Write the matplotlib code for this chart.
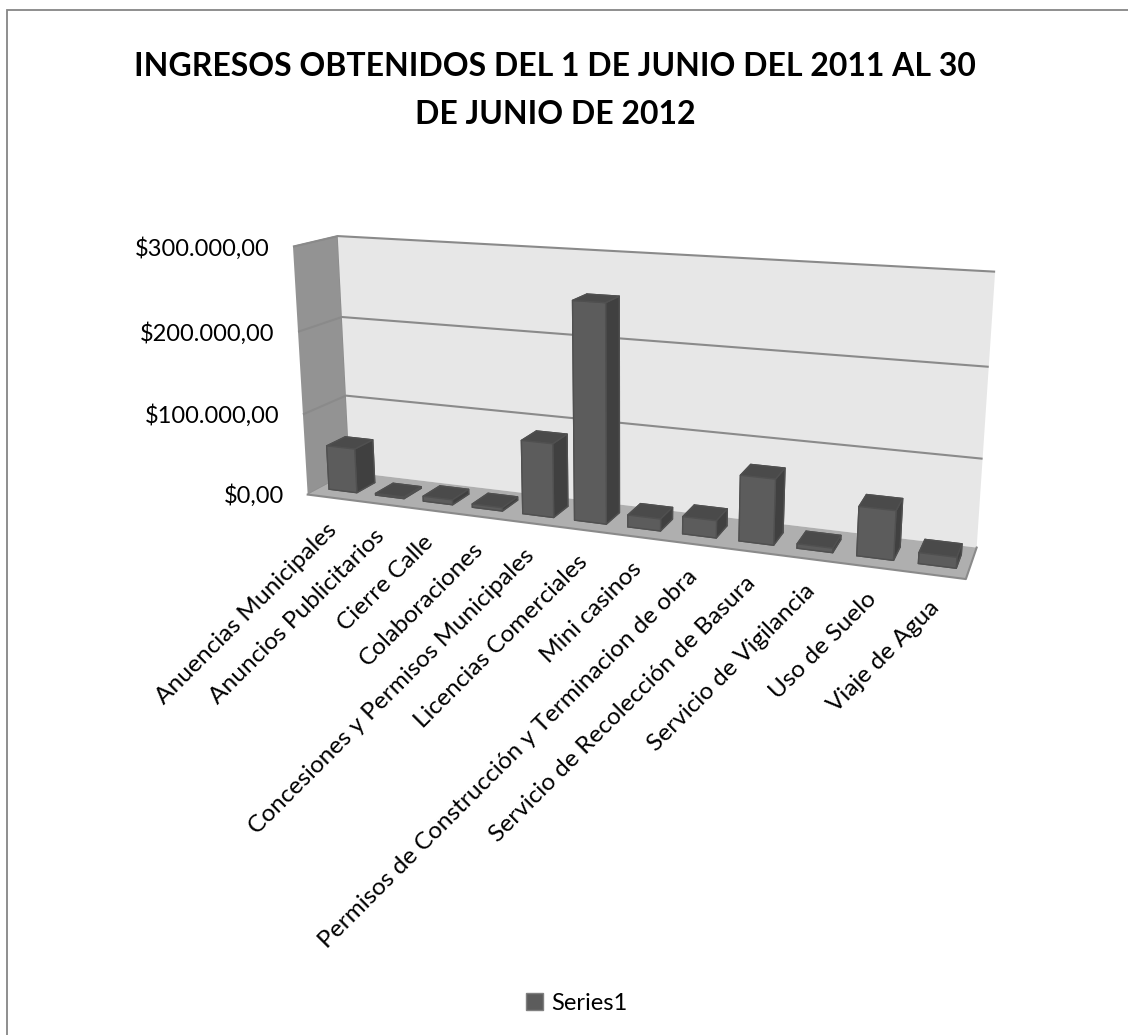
import numpy as np
import matplotlib
matplotlib.use('Agg')
import matplotlib.pyplot as plt
from matplotlib.patches import Patch, Rectangle
from mpl_toolkits.mplot3d import proj3d

categories = ['Anuencias Municipales', 'Anuncios Publicitarios', 'Cierre Calle', 'Colaboraciones',
              'Concesiones y Permisos Municipales', 'Licencias Comerciales', 'Mini casinos',
              'Permisos de Construcción y Terminacion de obra', 'Servicio de Recolección de Basura',
              'Servicio de Vigilancia', 'Uso de Suelo', 'Viaje de Agua']
values = [55000, 2000, 6000, 4000, 88000, 254000, 14000, 20000, 75000, 5000, 55000, 12000]
zticks = [0, 100000, 200000, 300000]
zlabels = ['$0,00', '$100.000,00', '$200.000,00', '$300.000,00']

plt.rcParams['font.family'] = ['Lato', 'DejaVu Sans']
plt.rcParams['grid.color'] = '#8a8a8a'
plt.rcParams['grid.linewidth'] = 1.5

W, H = 1128, 1035
fig = plt.figure(figsize=(W/100, H/100), dpi=100)
ax = fig.add_axes([0, 0, 1, 1], projection='3d')

# camera fitted to the corners of the walls
ax.set_xlim(0, 12)
ax.set_ylim(0, 1)
ax.set_zlim(0, 300000)
ax.view_init(elev=14.196, azim=-69.652)
ax.set_proj_type('persp', focal_length=0.34823)
ax.set_box_aspect((1, 0.12365, 0.38661))
s, cx, cy = 3944.1, 623.56, 392.15
vl = ax.viewLim
ax.set_position([(cx + s*vl.x0)/W, 1 - (cy - s*vl.y0)/H, s*vl.width/W, s*vl.height/H])
ax.patch.set_visible(False)

# walls and floor
ax.xaxis.set_pane_color('#939393')
ax.yaxis.set_pane_color('#e7e7e7')
ax.zaxis.set_pane_color('#afafaf')
ax.xaxis.pane.set_edgecolor('#8c8c8c')
ax.yaxis.pane.set_edgecolor('none')
ax.zaxis.pane.set_edgecolor('none')
for a in (ax.xaxis, ax.yaxis, ax.zaxis):
    a.line.set_color((0, 0, 0, 0))
ax.set_xticks([])
ax.set_yticks([])
ax.set_zticks(zticks[1:])
ax.set_zticklabels([])
ax.tick_params(axis='z', length=0, color=(0, 0, 0, 0))
ax.grid(True)
ax.plot([0, 12, 12], [0, 0, 1], [0, 0, 0], color='#8a8a8a', lw=1.5)

# bars
xpos = np.arange(len(values)) + 0.2
colors = ['#4a4a4a', '#4a4a4a', '#5c5c5c', '#5c5c5c', '#404040', '#404040']
ax.bar3d(xpos, np.full(len(values), 0.28), np.zeros(len(values)), 0.6, 0.44, values,
         color=colors*len(values), edgecolor='#505050', linewidth=1, shade=False)

# labels, Text3D ignores rotation so they go on as 2D text at the projected point
M = ax.get_proj()
for v, lab in zip(zticks, zlabels):
    x2, y2, _ = proj3d.proj_transform(0, 0, v, M)
    ax.annotate(lab, xy=(x2, y2), xytext=(-17, -1), textcoords='offset points', ha='right', va='center',
                fontsize=17, color='black')
for i, lab in enumerate(categories):
    x2, y2, _ = proj3d.proj_transform(i + 0.5, 0, 0, M)
    ax.annotate(lab, xy=(x2, y2), xytext=(-3.6, -15.5), textcoords='offset points', rotation=45,
                ha='right', va='top', rotation_mode='anchor', fontsize=17.6, color='black')

fig.text(555/W, 1 - 67/H, 'INGRESOS OBTENIDOS DEL 1 DE JUNIO DEL 2011 AL 30', ha='center', va='center',
         fontsize=23, fontweight='bold')
fig.text(555/W, 1 - 114/H, 'DE JUNIO DE 2012', ha='center', va='center', fontsize=23, fontweight='bold')

fig.legend(handles=[Patch(facecolor='#5c5c5c', edgecolor='#808080')], labels=['Series1'],
           loc='center', bbox_to_anchor=(577/W, 1 - 1003/H), frameon=False, fontsize=17,
           handlelength=0.72, handleheight=0.72, handletextpad=0.35)

# frame round the chart
fig.add_artist(Rectangle((7/W, -0.01), 1.2, 1 - 9.5/H + 0.01, transform=fig.transFigure, fill=False,
                         edgecolor='#868686', linewidth=1.3))

fig.savefig('out.png', dpi=100)
